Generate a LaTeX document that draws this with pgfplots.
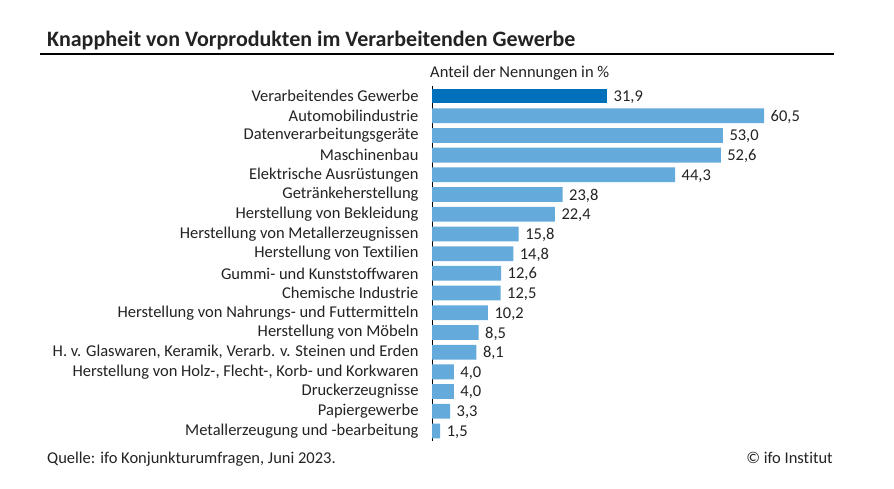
\documentclass[border=0pt]{standalone}
\usepackage{fontspec}
\setmainfont{Carlito}[Ligatures={NoCommon}]
\usepackage{pgfplots}
\pgfplotsset{compat=1.18}
\definecolor{darkbar}{RGB}{0,112,186}
\definecolor{lightbar}{RGB}{100,170,218}
\definecolor{txt}{RGB}{35,35,35}
\begin{document}
\begin{tikzpicture}[x=1pt,y=1pt]
\path[use as bounding box,fill=white] (0,0) rectangle (894,488);
\node[anchor=base west,font=\bfseries\fontsize{22}{24}\selectfont,text=txt,inner sep=0] at (47,441) {Knappheit von Vorprodukten im Verarbeitenden Gewerbe};
\draw[line width=1.8pt,black] (40,488-54) -- (834,488-54);
\node[anchor=base west,font=\fontsize{16.5}{18}\selectfont,text=txt,inner sep=0] at (430,488-78) {Anteil der Nennungen in \%};
\node[anchor=base west,font=\fontsize{16.5}{18}\selectfont,text=txt,inner sep=0] at (47,488-463) {Quelle: ifo Konjunkturumfragen, Juni 2023.};
\node[anchor=base east,font=\fontsize{16.5}{18}\selectfont,text=txt,inner sep=0] at (833,488-463) {© ifo Institut};
\begin{axis}[
  at={(432pt,401.85pt)}, anchor=north west,
  scale only axis, width=384.3pt, height=354.7pt,
  xbar, bar shift=0pt, xmin=0, xmax=70,
  ymin=-0.5, ymax=17.5, y dir=reverse,
  bar width=0.75,
  axis x line=none,
  axis y line*=left,
  y axis line style={black,line width=0.8pt,-},
  ytick={0,...,17}, major tick length=0pt,
  yticklabels={Verarbeitendes Gewerbe,Automobilindustrie,Datenverarbeitungsgeräte,Maschinenbau,Elektrische Ausrüstungen,Getränkeherstellung,Herstellung von Bekleidung,Herstellung von Metallerzeugnissen,Herstellung von Textilien,Gummi- und Kunststoffwaren,Chemische Industrie,Herstellung von Nahrungs- und Futtermitteln,Herstellung von Möbeln,{H. v. Glaswaren, Keramik, Verarb. v. Steinen und Erden},{Herstellung von Holz-, Flecht-, Korb- und Korkwaren},Druckerzeugnisse,Papiergewerbe,Metallerzeugung und -bearbeitung},
  yticklabel style={font=\fontsize{16.5}{18}\selectfont,text=txt,xshift=-10pt},
  nodes near coords,
  nodes near coords style={font=\fontsize{16.5}{18}\selectfont,text=txt,xshift=3pt,yshift=-1pt},
  /pgf/number format/.cd, use comma, fixed, fixed zerofill, precision=1, assume math mode=true,
]
\addplot[fill=darkbar,draw=none] coordinates {(31.9,0)};
\addplot[fill=lightbar,draw=none] coordinates {
(60.5,1) (53.0,2) (52.6,3) (44.3,4) (23.8,5) (22.4,6) (15.8,7) (14.8,8) (12.6,9) (12.5,10) (10.2,11) (8.5,12) (8.1,13) (4.0,14) (4.0,15) (3.3,16) (1.5,17)};
\end{axis}
\end{tikzpicture}
\end{document}
